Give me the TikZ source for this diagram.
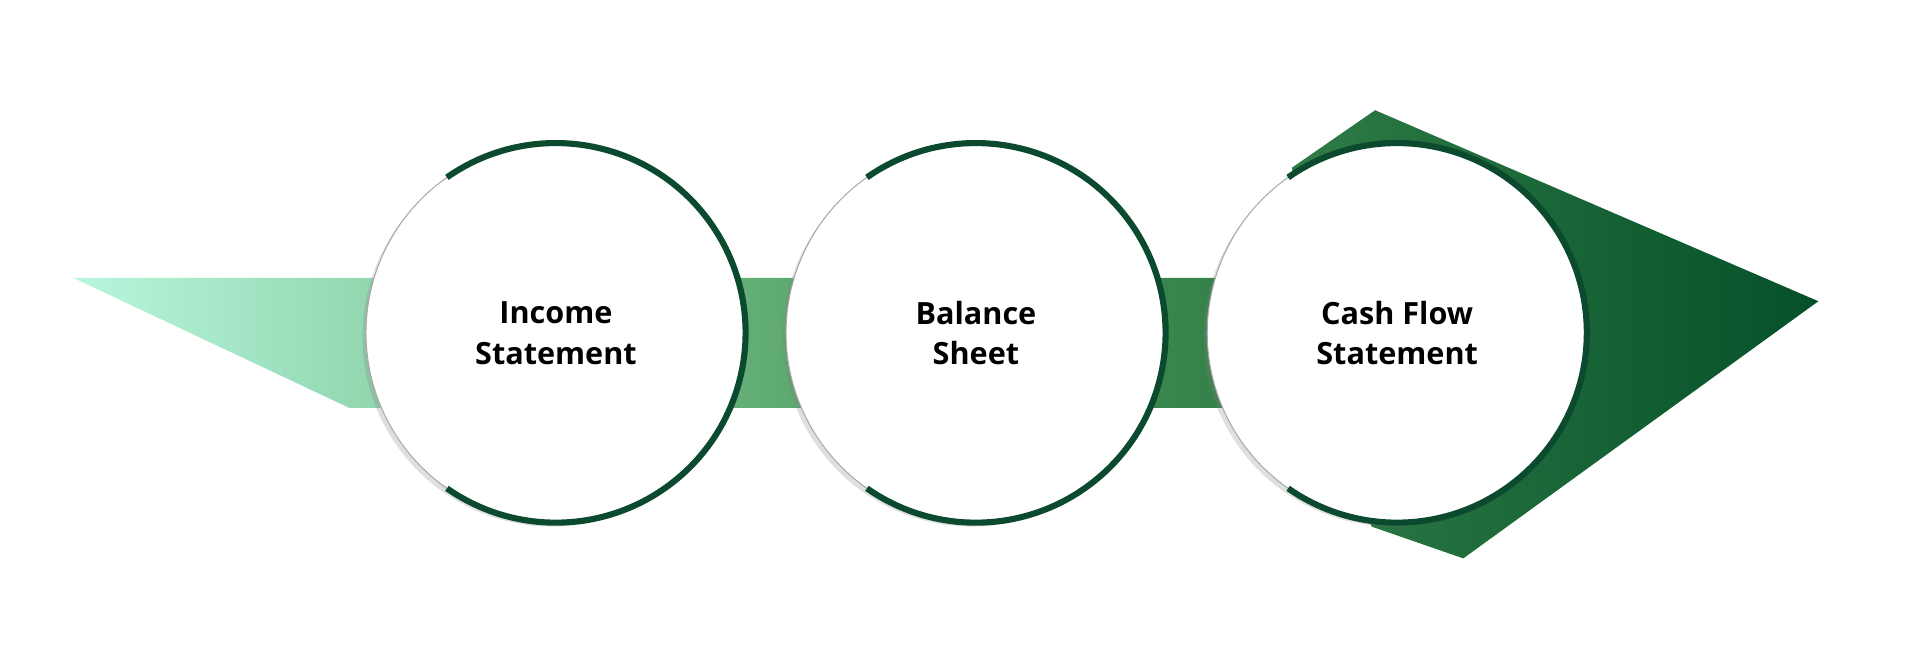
\documentclass[tikz,border=0pt]{standalone}
\usepackage{fontspec}
\setmainfont{Open Sans}
\usetikzlibrary{shadows}
\definecolor{dg}{HTML}{0B4A2E}
\definecolor{mint}{HTML}{B8F7DD}
\definecolor{deep}{HTML}{05502A}
\tikzset{
  disc/.style={circle,fill=white,minimum size=310pt,inner sep=0pt,
    drop shadow={opacity=0.25,shadow xshift=-3pt,shadow yshift=-3pt},
    font=\bfseries\fontsize{25}{33}\selectfont,align=center,text=black},
  rim/.style={draw=dg,line width=5pt},
  thin/.style={draw=gray!70,line width=0.8pt}
}
\begin{document}
\begin{tikzpicture}[x=1pt,y=-1pt]
\useasboundingbox (0,0) rectangle (1568,547);
\shade[left color=mint,right color=deep,middle color=green!35!black!60!mint]
  (60,227) -- (1000,227) -- (1000,333) -- (285,333) -- cycle
  (1055,137) -- (1123,90) -- (1485,246) -- (1195,456) -- (1120,430) -- cycle;
\foreach \n/\x/\t in {a/454/{Income\\Statement},b/797/{Balance\\Sheet},c/1141/{Cash Flow\\Statement}}{
  \node[disc] (\n) at (\x,272) {\t};
  \draw[thin] (\n.125) arc[start angle=125,end angle=235,radius=155pt];
  \draw[rim] (\n.125) arc[start angle=125,end angle=-125,radius=155pt];
}
\end{tikzpicture}
\end{document}
